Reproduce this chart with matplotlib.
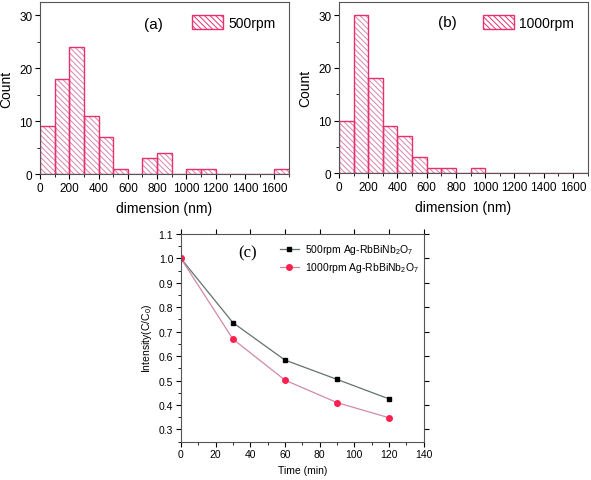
import numpy as np
import matplotlib.pyplot as plt
from matplotlib.patches import Patch
from matplotlib.ticker import MultipleLocator

plt.rcParams['font.family'] = ['Liberation Sans', 'DejaVu Sans']
plt.rcParams['mathtext.fontset'] = 'custom'
plt.rcParams['mathtext.rm'] = 'Liberation Sans'
plt.rcParams['mathtext.it'] = 'Liberation Sans'
plt.rcParams['hatch.linewidth'] = 0.7

# =========================
# DATA
# =========================
bin_left = np.arange(0, 1700, 100)
count_500 = [9, 18, 24, 11, 7, 1, 0, 3, 4, 0, 1, 1, 0, 0, 0, 0, 1]
count_1000 = [10, 30, 18, 9, 7, 3, 1, 1, 0, 1, 0, 0, 0, 0, 0, 0, 0]

time_min = [0, 30, 60, 90, 120]
ratio_500 = [1.0, 0.737, 0.584, 0.505, 0.425]
ratio_1000 = [1.0, 0.670, 0.502, 0.410, 0.348]

EDGE = '#e8306c'
HATCH = '#d884ad'
HPAT = '\\' * 6

fig = plt.figure(figsize=(5.91, 4.81), dpi=100)


def hist_panel(rect, counts, tag, tag_xy, label):
    ax = fig.add_axes(rect)
    # hatch layer (lighter) then outline layer
    ax.bar(bin_left, counts, width=100, align='edge', color='none',
           edgecolor=HATCH, hatch=HPAT, linewidth=0)
    ax.bar(bin_left, counts, width=100, align='edge', color='none',
           edgecolor=EDGE, linewidth=1.0)
    ax.set_xlim(0, 1700)
    ax.set_ylim(0, 32.5)
    ax.xaxis.set_major_locator(MultipleLocator(200))
    ax.xaxis.set_minor_locator(MultipleLocator(100))
    ax.yaxis.set_major_locator(MultipleLocator(10))
    ax.yaxis.set_minor_locator(MultipleLocator(5))
    ax.tick_params(which='both', direction='out', labelsize=8.5, pad=2)
    ax.tick_params(which='major', length=3.5)
    ax.tick_params(which='minor', length=2)
    ax.set_xlabel('dimension (nm)', fontsize=10, labelpad=5)
    ax.set_ylabel('Count', fontsize=10, labelpad=4)
    for s in ax.spines.values():
        s.set_color('#555555')
    ax.text(tag_xy[0], tag_xy[1], tag, transform=ax.transAxes,
            ha='center', va='center', fontsize=11)
    h = Patch(facecolor='none', edgecolor=EDGE, hatch=HPAT, linewidth=1.0)
    ax.legend([h], [label], loc='upper right', frameon=False, fontsize=10,
              handlelength=2.2, handleheight=1.15, handletextpad=0.4,
              borderaxespad=0.55)
    return ax


hist_panel([0.0677, 0.636, 0.421, 0.3576], count_500, '(a)', (0.454, 0.872), '500rpm')
hist_panel([0.5736, 0.638, 0.4205, 0.3555], count_1000, '(b)', (0.438, 0.883), '1000rpm')

# =========================
# PANEL (c)
# =========================
ax = fig.add_axes([0.306, 0.0796, 0.411, 0.432])
ax.plot(time_min, ratio_500, '-', color='#62726f', lw=0.9, marker='s',
        ms=3.3, mfc='black', mec='black', label='500rpm Ag-RbBiNb$_2$O$_7$')
ax.plot(time_min, ratio_1000, '-', color='#d08aa8', lw=0.9, marker='o',
        ms=4, mfc='#ff2050', mec='#ff2050', label='1000rpm Ag-RbBiNb$_2$O$_7$')
ax.set_xlim(0, 140)
ax.set_ylim(0.25, 1.1)
ax.xaxis.set_major_locator(MultipleLocator(20))
ax.xaxis.set_minor_locator(MultipleLocator(10))
ax.yaxis.set_major_locator(MultipleLocator(0.1))
ax.yaxis.set_minor_locator(MultipleLocator(0.05))
ax.yaxis.set_major_formatter(plt.FormatStrFormatter('%.1f'))
ax.tick_params(which='both', direction='out', labelsize=7.5, pad=2)
ax.tick_params(which='major', length=3.5)
ax.tick_params(which='minor', length=2)
ax.tick_params(which='major', top=True, right=True)
ax.set_xlabel('Time (min)', fontsize=7.5)
ax.set_ylabel('Intensity(C/C$_0$)', fontsize=7.5, labelpad=3)
for s in ax.spines.values():
    s.set_color('#555555')
ax.text(0.276, 0.91, '(c)', transform=ax.transAxes, ha='center', va='center',
        fontsize=12, family=['Liberation Serif', 'DejaVu Serif'])
ax.legend(loc='upper right', bbox_to_anchor=(1.0, 0.985), frameon=False,
          fontsize=7.5, handlelength=1.9, handletextpad=0.5,
          borderaxespad=0.1, labelspacing=0.4)

fig.savefig('out.png', dpi=100)
